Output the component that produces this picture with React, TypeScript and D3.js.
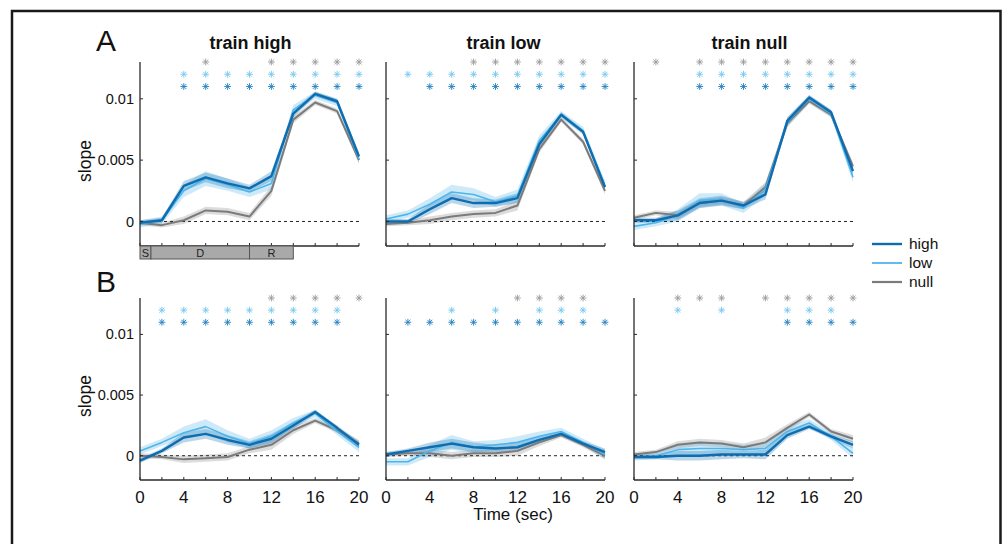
import React from "react";
import * as d3 from "d3";

// ---------- data ----------
const timePoints = [0, 2, 4, 6, 8, 10, 12, 14, 16, 18, 20];
const panelTitles = ["train high", "train low", "train null"];
const xTickLabels = [0, 4, 8, 12, 16, 20];
const xTicks = [0, 2, 4, 6, 8, 10, 12, 14, 16, 18, 20];
const yTicks = [0, 0.005, 0.01];
const yTickLabels = ["0", "0.005", "0.01"];
const legendLabels = ["high", "low", "null"];
const phaseLabels = ["S", "D", "R"];
const phaseStarts = [0, 1, 10];
const phaseEnds = [1, 10, 14];

// Row A means
const aHighHigh = [-0.0001, 0.0001, 0.0029, 0.0036, 0.0031, 0.0027, 0.0037, 0.0088, 0.0104, 0.0098, 0.0053];
const aHighLow = [-0.0002, 0.0001, 0.0025, 0.0035, 0.003, 0.0024, 0.0031, 0.0091, 0.0103, 0.0097, 0.0051];
const aHighNull = [-0.0001, -0.0003, 0.0001, 0.0009, 0.0008, 0.0004, 0.0025, 0.0083, 0.0097, 0.009, 0.005];
const aLowHigh = [0, 0, 0.001, 0.0019, 0.0015, 0.0015, 0.0019, 0.0063, 0.0087, 0.0073, 0.0028];
const aLowLow = [0.0002, 0.0006, 0.0014, 0.0024, 0.0022, 0.0016, 0.0021, 0.0066, 0.0087, 0.0074, 0.0029];
const aLowNull = [-0.0002, -0.0001, 0.0001, 0.0004, 0.0006, 0.0007, 0.0013, 0.0059, 0.0083, 0.0065, 0.0025];
const aNullHigh = [0.0001, 0.0001, 0.0005, 0.0015, 0.0017, 0.0013, 0.0022, 0.0082, 0.0101, 0.0089, 0.0041];
const aNullLow = [-0.0004, -0.0001, 0.0005, 0.0017, 0.0018, 0.0011, 0.0026, 0.0081, 0.01, 0.0088, 0.0036];
const aNullNull = [0.0003, 0.0007, 0.0005, 0.0015, 0.0017, 0.0013, 0.0028, 0.008, 0.0098, 0.0087, 0.0045];

// Row B means
const bHighHigh = [-0.0004, 0.0004, 0.0015, 0.0018, 0.0013, 0.0009, 0.0014, 0.0025, 0.0036, 0.0023, 0.0009];
const bHighLow = [0.0004, 0.0011, 0.0019, 0.0024, 0.0016, 0.001, 0.0016, 0.0027, 0.0035, 0.002, 0.0007];
const bHighNull = [0, -0.0001, -0.0003, -0.0002, -0.0001, 0.0005, 0.0009, 0.0021, 0.0029, 0.0021, 0.001];
const bLowHigh = [0.0001, 0.0004, 0.0007, 0.001, 0.0007, 0.0006, 0.0007, 0.0013, 0.0018, 0.001, 0.0003];
const bLowLow = [-0.0005, -0.0005, 0.0004, 0.0011, 0.0007, 0.0009, 0.0011, 0.0016, 0.002, 0.0011, 0.0001];
const bLowNull = [0.0001, 0.0002, 0.0002, 0, 0.0002, 0.0002, 0.0004, 0.0011, 0.0017, 0.0009, 0];
const bNullHigh = [-0.0001, -0.0001, 0, 0, 0.0001, 0.0001, 0.0001, 0.0017, 0.0024, 0.0016, 0.0009];
const bNullLow = [-0.0001, 0, 0.0005, 0.0006, 0.0006, 0.0005, 0.0006, 0.002, 0.0027, 0.0016, 0.0002];
const bNullNull = [0.0001, 0.0003, 0.0009, 0.0011, 0.001, 0.0007, 0.0011, 0.0023, 0.0034, 0.002, 0.0014];

// standard errors (shaded bands)
const seHigh = [0.0002, 0.0002, 0.0004, 0.0004, 0.0004, 0.0003, 0.0004, 0.0003, 0.0002, 0.0002, 0.0003];
const seLow = [0.0003, 0.0003, 0.0005, 0.0006, 0.0005, 0.0004, 0.0005, 0.0004, 0.0003, 0.0003, 0.0004];
const seNull = [0.0002, 0.0002, 0.0003, 0.0003, 0.0003, 0.0003, 0.0004, 0.0003, 0.0002, 0.0002, 0.0003];

// significance asterisks (time points), per panel: [null(gray), low(light), high(dark)]
const starsA1 = [[6, 12, 14, 16, 18, 20], [4, 6, 8, 10, 12, 14, 16, 18, 20], [4, 6, 8, 10, 12, 14, 16, 18, 20]];
const starsA2 = [[8, 10, 12, 14, 16, 18, 20], [2, 4, 6, 8, 10, 12, 14, 16, 18, 20], [4, 6, 8, 10, 12, 14, 16, 18, 20]];
const starsA3 = [[2, 6, 8, 10, 12, 14, 16, 18, 20], [6, 8, 10, 12, 14, 16, 18, 20], [6, 8, 10, 12, 14, 16, 18, 20]];
const starsB1 = [[12, 14, 16, 18, 20], [2, 4, 6, 8, 10, 12, 14, 16, 18], [2, 4, 6, 8, 10, 12, 14, 16, 18]];
const starsB2 = [[12, 14, 16, 18], [6, 10, 14, 16, 18], [2, 4, 6, 8, 10, 12, 14, 16, 18, 20]];
const starsB3 = [[4, 6, 8, 12, 14, 16, 18, 20], [4, 8, 14, 16, 18], [14, 16, 18, 20]];
const starLevels = [0.013, 0.012, 0.011];

// ---------- styling ----------
const FONT = "'Liberation Sans', Arial, Helvetica, sans-serif";
const C_HIGH = "#0e6db0";
const C_LOW = "#4eb5ea";
const C_NULL = "#7b7b7b";
const STAR_COLORS = ["#9a9a9a", "#74c8ee", "#1f80c2"];

const panelX = [140, 386, 634];
const panelW = 219;
const rows = [
  { top: 62, bottom: 246, letter: "A", letterY: 51, series: [[aHighHigh, aHighLow, aHighNull], [aLowHigh, aLowLow, aLowNull], [aNullHigh, aNullLow, aNullNull]], stars: [starsA1, starsA2, starsA3] },
  { top: 298, bottom: 480, letter: "B", letterY: 292, series: [[bHighHigh, bHighLow, bHighNull], [bLowHigh, bLowLow, bLowNull], [bNullHigh, bNullLow, bNullNull]], stars: [starsB1, starsB2, starsB3] },
];
const titleDx = [1, 8, 6];

function Star({ x, y, color }: { x: number; y: number; color: string }) {
  const r = 3.4;
  const d = r * 0.72;
  return (
    <g stroke={color} strokeWidth={0.9}>
      <line x1={x - r} y1={y} x2={x + r} y2={y} />
      <line x1={x} y1={y - r} x2={x} y2={y + r} />
      <line x1={x - d} y1={y - d} x2={x + d} y2={y + d} />
      <line x1={x - d} y1={y + d} x2={x + d} y2={y - d} />
    </g>
  );
}

function Panel({ rowIdx, colIdx }: { rowIdx: number; colIdx: number }) {
  const row = rows[rowIdx];
  const x0 = panelX[colIdx];
  const x = d3.scaleLinear().domain([0, 20]).range([x0, x0 + panelW]);
  const y = d3.scaleLinear().domain([-0.002, 0.013]).range([row.bottom, row.top]);
  const [hi, lo, nu] = row.series[colIdx];
  const ses = [seHigh, seLow, seNull];
  const means = [hi, lo, nu];
  const colors = [C_HIGH, C_LOW, C_NULL];
  const bandColors = [C_HIGH, C_LOW, "#8c8c8c"];
  const widths = [2.4, 1.6, 2];
  const line = d3.line<number>().x((_, i) => x(timePoints[i])).y((v) => y(v));
  const area = (m: number[], s: number[]) =>
    d3.area<number>().x((_, i) => x(timePoints[i])).y0((v, i) => y(v - s[i])).y1((v, i) => y(v + s[i]))(m) as string;
  const order = [2, 1, 0];
  const stars = row.stars[colIdx];
  return (
    <g>
      {order.map((k) => (
        <path key={"b" + k} d={area(means[k], ses[k])} fill={bandColors[k]} opacity={k === 2 ? 0.3 : 0.28} stroke="none" />
      ))}
      <line x1={x(0)} x2={x(20)} y1={y(0)} y2={y(0)} stroke="#222" strokeWidth={1} strokeDasharray="3,3" />
      {order.map((k) => (
        <path key={"l" + k} d={line(means[k]) as string} fill="none" stroke={colors[k]} strokeWidth={widths[k]} strokeLinejoin="round" />
      ))}
      {stars.map((list, li) =>
        list.map((t) => <Star key={li + "-" + t} x={x(t)} y={y(starLevels[li])} color={STAR_COLORS[li]} />)
      )}
      <line x1={x0} x2={x0} y1={row.top} y2={row.bottom} stroke="#2a2a2a" strokeWidth={1.3} />
      <line x1={x0} x2={x0 + panelW} y1={row.bottom} y2={row.bottom} stroke="#2a2a2a" strokeWidth={1.3} />
      {yTicks.map((t) => (
        <line key={"yt" + t} x1={x0} x2={x0 + 3} y1={y(t)} y2={y(t)} stroke="#2a2a2a" strokeWidth={1} />
      ))}
      {xTicks.map((t) => (
        <line key={"xt" + t} x1={x(t)} x2={x(t)} y1={row.bottom} y2={row.bottom - 3} stroke="#2a2a2a" strokeWidth={1} />
      ))}
      {colIdx === 0 &&
        yTicks.map((t, i) => (
          <text key={"yl" + t} x={x0 - 6} y={y(t)} dy="0.35em" textAnchor="end" fontSize={14.5} fontFamily={FONT} fill="#111">
            {yTickLabels[i]}
          </text>
        ))}
      {rowIdx === 1 &&
        xTickLabels.map((t) => (
          <text key={"xl" + t} x={x(t)} y={row.bottom + 23} textAnchor="middle" fontSize={17} fontFamily={FONT} fill="#111">
            {t}
          </text>
        ))}
      {rowIdx === 0 && (
        <text x={x0 + panelW / 2 + titleDx[colIdx]} y={49} textAnchor="middle" fontSize={18} fontWeight="bold" fontFamily={FONT} fill="#111">
          {panelTitles[colIdx]}
        </text>
      )}
      {colIdx === 0 && (
        <text
          transform={`translate(${91},${(row.top + row.bottom) / 2 + 7}) rotate(-90)`}
          textAnchor="middle"
          fontSize={17.5}
          fontFamily={FONT}
          fill="#111"
        >
          slope
        </text>
      )}
      {rowIdx === 0 && colIdx === 0 && (
        <g>
          {phaseLabels.map((p, i) => (
            <g key={p}>
              <rect x={x(phaseStarts[i])} y={row.bottom} width={x(phaseEnds[i]) - x(phaseStarts[i])} height={13} fill="#a9a9a9" stroke="#555" strokeWidth={1} />
              <text x={(x(phaseStarts[i]) + x(phaseEnds[i])) / 2} y={row.bottom + 11} textAnchor="middle" fontSize={11} fontFamily={FONT} fill="#222">
                {p}
              </text>
            </g>
          ))}
        </g>
      )}
    </g>
  );
}

export default function App() {
  const legendColors = [C_HIGH, C_LOW, C_NULL];
  const legendWidths = [2.4, 1.8, 2.2];
  const legendY = [244, 263, 282];
  return (
    <svg width={1002} height={544} style={{ position: "absolute", left: 0, top: 0, background: "#fff" }}>
      <rect x={0} y={0} width={1002} height={544} fill="#fff" />
      <path d="M12,560 L12,11 L1000.5,11 L1000.5,560" fill="none" stroke="#1a1a1a" strokeWidth={2.5} />
      {rows.map((row, ri) => (
        <g key={ri}>
          <text x={96} y={row.letterY} fontSize={30} fontFamily={FONT} fill="#111">
            {row.letter}
          </text>
          {[0, 1, 2].map((ci) => (
            <Panel key={ci} rowIdx={ri} colIdx={ci} />
          ))}
        </g>
      ))}
      <text x={513} y={520} textAnchor="middle" fontSize={17} fontFamily={FONT} fill="#111">
        Time (sec)
      </text>
      {legendLabels.map((l, i) => (
        <g key={l}>
          <line x1={872} x2={902} y1={legendY[i]} y2={legendY[i]} stroke={legendColors[i]} strokeWidth={legendWidths[i]} />
          <text x={909} y={legendY[i]} dy="0.35em" fontSize={15.5} fontFamily={FONT} fill="#111">
            {l}
          </text>
        </g>
      ))}
    </svg>
  );
}
